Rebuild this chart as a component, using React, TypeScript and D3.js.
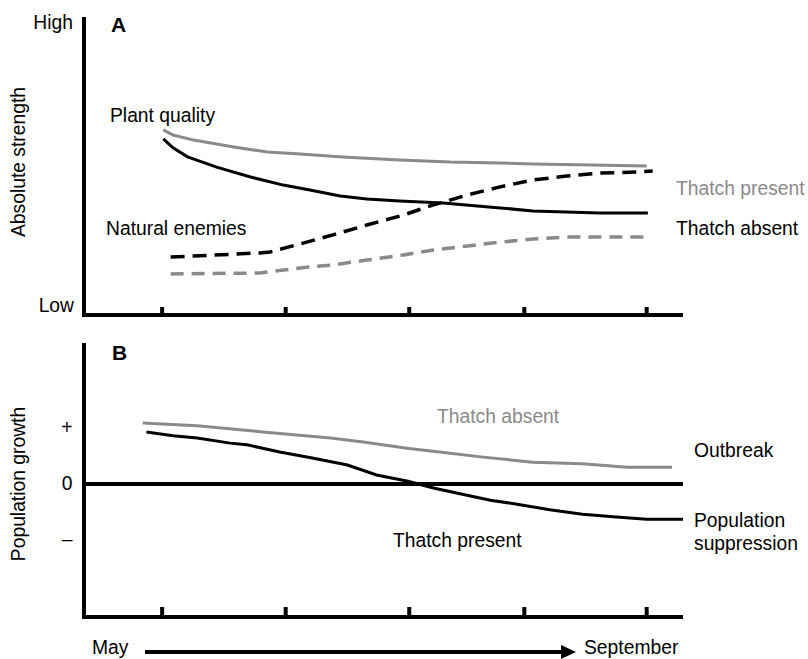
import React from "react";
import * as d3 from "d3";

// ---- data (x in months from May, y in relative units) ----
const monthTicks = [0, 1.02, 2.04, 2.99, 4];

// Panel A: absolute strength (0 = Low, 10 = High)
const plantPresentX = [0.01, 0.09, 0.26, 0.59, 0.87, 1.14, 1.49, 1.96, 2.38, 2.79, 3.06, 3.55, 4.0];
const plantPresentY = [6.17, 6.0, 5.83, 5.6, 5.43, 5.37, 5.27, 5.17, 5.1, 5.07, 5.03, 5.0, 4.97];

const plantAbsentX = [0.01, 0.09, 0.21, 0.45, 0.73, 1.0, 1.22, 1.47, 1.69, 1.96, 2.32, 2.79, 3.06, 3.61, 4.01];
const plantAbsentY = [5.87, 5.57, 5.27, 4.93, 4.6, 4.33, 4.17, 3.97, 3.87, 3.8, 3.73, 3.57, 3.47, 3.4, 3.4];

const enemiesPresentX = [0.07, 0.81, 0.89, 1.14, 1.41, 1.69, 1.99, 2.24, 2.52, 2.79, 3.06, 3.34, 3.61, 3.94, 4.05];
const enemiesPresentY = [1.93, 2.07, 2.1, 2.37, 2.67, 3.0, 3.33, 3.67, 4.0, 4.27, 4.5, 4.63, 4.73, 4.77, 4.8];

const enemiesAbsentX = [0.07, 0.81, 1.14, 1.41, 1.69, 1.99, 2.24, 2.52, 2.79, 3.06, 3.34, 4.02];
const enemiesAbsentY = [1.37, 1.4, 1.57, 1.67, 1.83, 2.0, 2.17, 2.3, 2.43, 2.53, 2.6, 2.6];

// Panel B: population growth (+1, 0, -1)
const growthAbsentX = [-0.16, 0.29, 0.83, 1.11, 1.39, 1.66, 2.02, 2.29, 2.65, 3.06, 3.47, 3.84, 4.21];
const growthAbsentY = [1.09, 1.04, 0.93, 0.875, 0.82, 0.75, 0.64, 0.57, 0.48, 0.39, 0.36, 0.3, 0.3];

const growthPresentX = [-0.13, 0.09, 0.29, 0.56, 0.7, 0.97, 1.25, 1.53, 1.77, 2.03, 2.24, 2.43, 2.71, 2.93, 3.2, 3.47, 3.75, 4.0, 4.3];
const growthPresentY = [0.93, 0.86, 0.82, 0.73, 0.7, 0.57, 0.46, 0.34, 0.16, 0.05, -0.07, -0.16, -0.29, -0.36, -0.46, -0.54, -0.59, -0.63, -0.63];

const growthTicks = [1, 0, -1];
const growthTickLabels = ["+", "0", "–"];

const GRAY = "#8a8a8a";
const FONT = "'Liberation Sans', Arial, Helvetica, sans-serif";
const FS = 19.3;

const zip = (xs: number[], ys: number[]) => xs.map((x, i) => [x, ys[i]] as [number, number]);

export default function App() {
  const x = d3.scaleLinear().domain([-0.645, 4.3]).range([84, 683]);
  const yA = d3.scaleLinear().domain([0, 10]).range([315, 15]);
  const yB = d3.scaleLinear().domain([-2.375, 2.5]).range([617, 344]);

  const lineA = d3.line<[number, number]>().x((d) => x(d[0])).y((d) => yA(d[1]));
  const lineB = d3.line<[number, number]>().x((d) => x(d[0])).y((d) => yB(d[1]));

  const [x0, x1] = x.range();
  const axisW = 4;

  return (
    <svg
      width={808}
      height={659}
      style={{ position: "absolute", left: 0, top: 0, background: "#fff" }}
      fontFamily={FONT}
      fontSize={FS}
    >
      {/* ---------- Panel A ---------- */}
      <g>
        <line x1={x0} x2={x0} y1={17} y2={yA(0) + axisW / 2} stroke="#000" strokeWidth={axisW} />
        <line x1={x0 - axisW / 2} x2={x1} y1={yA(0)} y2={yA(0)} stroke="#000" strokeWidth={axisW} />
        {monthTicks.map((t, i) => (
          <line key={i} x1={x(t)} x2={x(t)} y1={yA(0) - 8} y2={yA(0)} stroke="#000" strokeWidth={4} />
        ))}
        <text x={73} y={29} textAnchor="end">High</text>
        <text x={74} y={312} textAnchor="end">Low</text>
        <text x={111} y={32} fontWeight="bold" fontSize={21}>A</text>
        <text transform="translate(25,162) rotate(-90)" textAnchor="middle">Absolute strength</text>

        <path d={lineA(zip(plantPresentX, plantPresentY)) || ""} fill="none" stroke={GRAY} strokeWidth={3} />
        <path d={lineA(zip(plantAbsentX, plantAbsentY)) || ""} fill="none" stroke="#000" strokeWidth={3} />
        <path d={lineA(zip(enemiesPresentX, enemiesPresentY)) || ""} fill="none" stroke="#000" strokeWidth={3.5} strokeDasharray="14,8" />
        <path d={lineA(zip(enemiesAbsentX, enemiesAbsentY)) || ""} fill="none" stroke={GRAY} strokeWidth={3.5} strokeDasharray="13,8" />

        <text x={110} y={122}>Plant quality</text>
        <text x={106} y={235}>Natural enemies</text>
        <text x={676} y={195} fill={GRAY}>Thatch present</text>
        <text x={676} y={235}>Thatch absent</text>
      </g>

      {/* ---------- Panel B ---------- */}
      <g>
        <line x1={x0} x2={x0} y1={343} y2={yB(-2.375) + axisW / 2} stroke="#000" strokeWidth={axisW} />
        <line x1={x0 - axisW / 2} x2={x1} y1={yB(-2.375)} y2={yB(-2.375)} stroke="#000" strokeWidth={axisW} />
        <line x1={x0} x2={x1} y1={yB(0)} y2={yB(0)} stroke="#000" strokeWidth={axisW} />
        {monthTicks.map((t, i) => (
          <line key={i} x1={x(t)} x2={x(t)} y1={yB(-2.375) - 10} y2={yB(-2.375)} stroke="#000" strokeWidth={4} />
        ))}
        {growthTicks.map((t, i) => (
          <text key={i} x={67} y={yB(t) + 6} textAnchor="middle">{growthTickLabels[i]}</text>
        ))}
        <text x={112} y={360} fontWeight="bold" fontSize={21}>B</text>
        <text transform="translate(25,484) rotate(-90)" textAnchor="middle">Population growth</text>

        <path d={lineB(zip(growthAbsentX, growthAbsentY)) || ""} fill="none" stroke={GRAY} strokeWidth={3} />
        <path d={lineB(zip(growthPresentX, growthPresentY)) || ""} fill="none" stroke="#000" strokeWidth={3} />

        <text x={437} y={423} fill={GRAY}>Thatch absent</text>
        <text x={694} y={457}>Outbreak</text>
        <text x={694} y={527}>Population</text>
        <text x={694} y={550}>suppression</text>
        <text x={393} y={547}>Thatch present</text>
      </g>

      {/* ---------- Time arrow ---------- */}
      <g>
        <text x={92} y={654}>May</text>
        <line x1={145} x2={562} y1={652} y2={652} stroke="#000" strokeWidth={4} />
        <path d="M561,645 L576,652 L561,659 Z" fill="#000" />
        <text x={584} y={654}>September</text>
      </g>
    </svg>
  );
}
